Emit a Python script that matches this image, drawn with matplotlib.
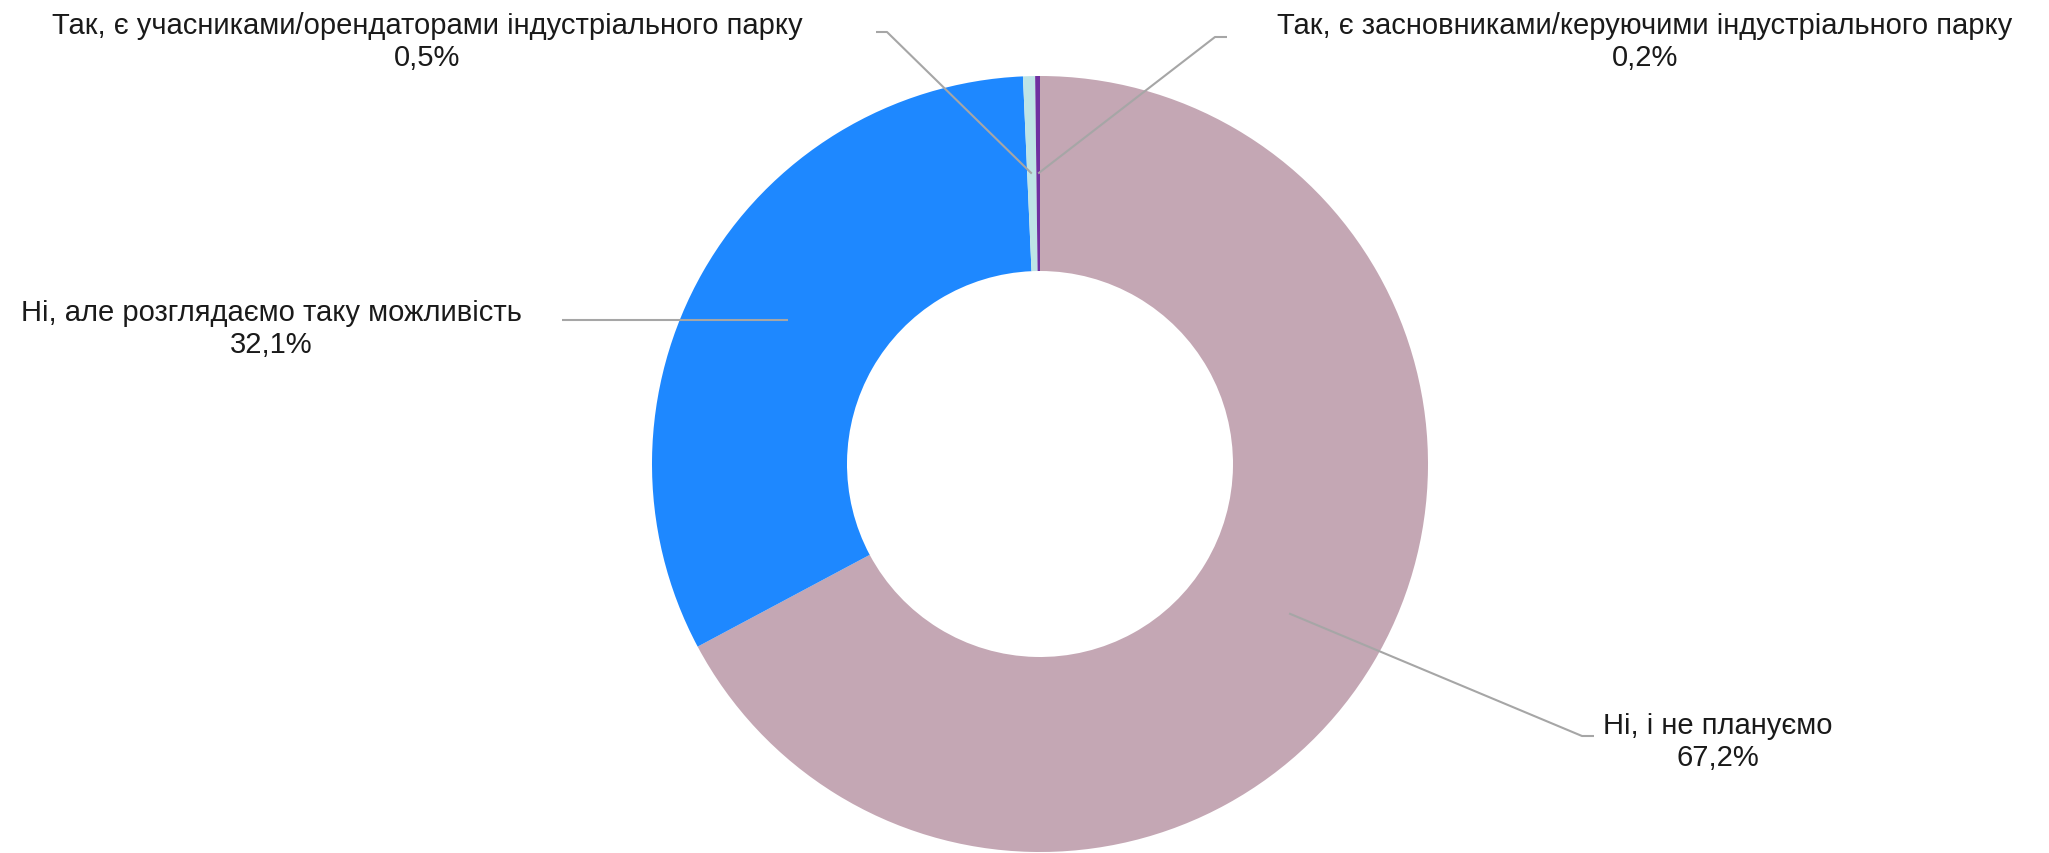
import numpy as np
import matplotlib.pyplot as plt

plt.rcParams['font.family'] = ['Liberation Sans', 'DejaVu Sans']

labels = ["Ні, і не плануємо",
          "Ні, але розглядаємо таку можливість",
          "Так, є учасниками/орендаторами індустріального парку",
          "Так, є засновниками/керуючими індустріального парку"]
values = [67.2, 32.1, 0.5, 0.2]
pct_text = ["67,2%", "32,1%", "0,5%", "0,2%"]
colors = ['#C4A7B4', '#1E88FF', '#BEE4E6', '#7030A0']

W, H = 2049, 854
fig = plt.figure(figsize=(W / 100, H / 100), dpi=100)
ax = fig.add_axes([0, 0, 1, 1])

cx, cy, R, ring = 1040, 389, 388, 195
wedges, _ = ax.pie(values, colors=colors, startangle=90, counterclock=False,
                   center=(cx, cy), radius=R, frame=True,
                   wedgeprops=dict(width=ring, linewidth=0))
ax.set_xlim(0, W)
ax.set_ylim(0, H)
ax.set_aspect('equal')
ax.axis('off')

# anchor points at the middle of each ring segment
anchors = []
for w in wedges:
    ang = np.deg2rad((w.theta1 + w.theta2) / 2)
    r = R - ring / 2
    anchors.append((cx + r * np.cos(ang), cy + r * np.sin(ang)))

# label positions and leader elbows (pixels, y up)
text_pos = [(1718, 112), (271, 525), (427, 812), (1645, 812)]
elbows = [[(1594, 117), (1582, 117)],
          [(562, None)],
          [(876, 821), (887, 821)],
          [(1227, 816), (1215, 816)]]

for i in range(len(values)):
    pts = [(x, anchors[i][1] if y is None else y) for x, y in elbows[i]]
    pts.append(anchors[i])
    xs = [p[0] for p in pts]
    ys = [p[1] for p in pts]
    ax.plot(xs, ys, color='#A6A6A6', lw=1.5, solid_capstyle='butt')
    ax.text(text_pos[i][0], text_pos[i][1], labels[i] + "\n" + pct_text[i],
            ha='center', va='center', fontsize=21, color='#1a1a1a',
            linespacing=1.2)

fig.savefig('out.png', dpi=100)
